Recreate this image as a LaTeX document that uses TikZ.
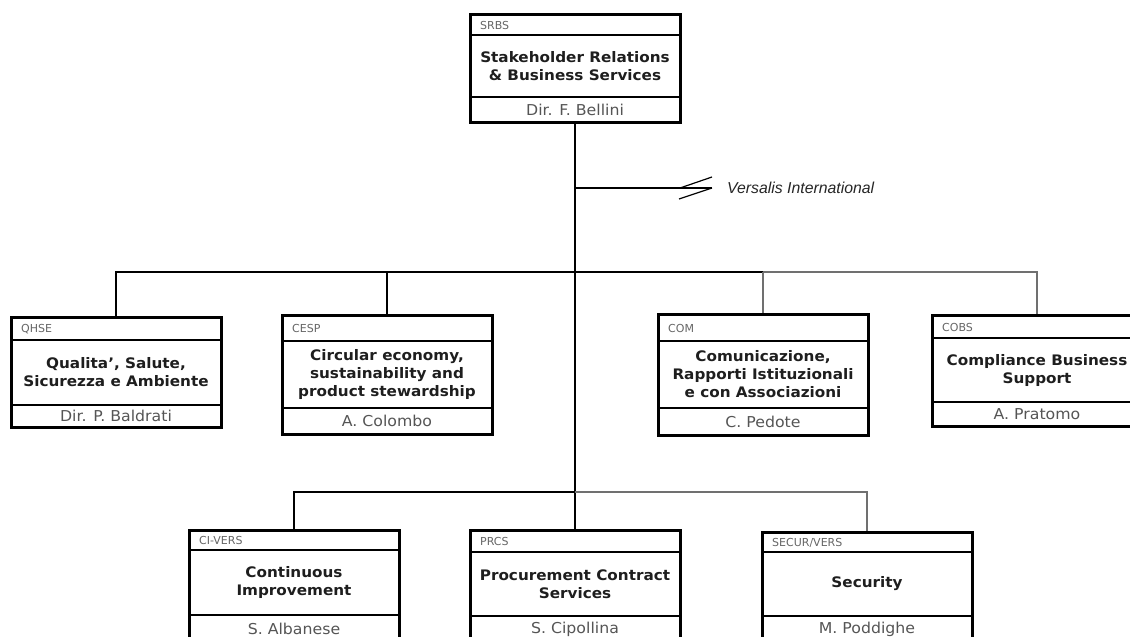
\documentclass[tikz,border=0pt]{standalone}
\usepackage{fontspec}
\setmainfont{DejaVu Sans}
\newfontfamily\versfont{Liberation Sans}
\newfontfamily\widefont[FakeStretch=1.05]{DejaVu Sans}
\usetikzlibrary{fit,shadows}
\definecolor{codegray}{HTML}{666666}
\definecolor{namegray}{HTML}{555555}
\definecolor{titlecol}{HTML}{1E1E1E}
\definecolor{linegray}{HTML}{707070}
\tikzset{
  boxframe/.style={draw=black, line width=3pt, fill=white, inner sep=0pt,
    drop shadow={shadow xshift=1.5pt, shadow yshift=-1.5pt, fill=black, opacity=1}},
  divider/.style={draw=black, line width=1.4pt},
  codetext/.style={font=\fontsize{11}{12}\selectfont, text=codegray, anchor=west, inner sep=0pt},
  titletext/.style={font=\widefont\fontsize{14.5}{18}\selectfont\bfseries, text=titlecol, align=center, inner sep=0pt},
  nametext/.style={font=\widefont\fontsize{15}{17}\selectfont, text=namegray, inner sep=0pt},
  conn/.style={draw=black, line width=1.6pt},
  conngray/.style={draw=linegray, line width=1.6pt},
  verstext/.style={font=\versfont\itshape\fontsize{15.8}{17}\selectfont, text=black!85, anchor=west, inner sep=0pt},
}
% #1 name, #2 cx, #3 top, #4 hline, #5 mline, #6 bottom, #7 code, #8 title, #9 person
\newcommand\obox[9]{%
  \node[boxframe, fit={({#2-105},#3) ({#2+105},#6)}] (#1) {};
  \draw[divider] ({#2-105},#4) -- ({#2+105},#4);
  \draw[divider] ({#2-105},#5) -- ({#2+105},#5);
  \node[codetext] (#1c) at ({#2-95},{(#3+#4)/2+0.5}) {#7};
  \node[titletext] (#1t) at (#2,{(#4+#5)/2}) {#8};
  \node[nametext] (#1n) at (#2,{(#5+#6)/2}) {#9};
}
\begin{document}
\begin{tikzpicture}[x=1pt,y=-1pt]
\useasboundingbox (0,0) rectangle (1130,637);
\clip (0,0) rectangle (1130,637);
\fill[white] (0,0) rectangle (1130,637);

% boxes
\obox{SRBS}{575}{14.5}{35}{97}{122.5}{SRBS}{Stakeholder Relations\\\& Business Services}{Dir. F. Bellini}
\obox{QHSE}{116}{317}{340}{405}{427}{QHSE}{Qualita’, Salute,\\Sicurezza e Ambiente}{Dir. P. Baldrati}
\obox{CESP}{387}{315.5}{341}{408}{434}{CESP}{Circular economy,\\sustainability and\\product stewardship}{A. Colombo}
\obox{COM}{763}{314.5}{341}{408}{435.5}{COM}{Comunicazione,\\Rapporti Istituzionali\\e con Associazioni}{C. Pedote}
\obox{COBS}{1037}{315.5}{338}{402}{426}{COBS}{Compliance Business\\Support}{A. Pratomo}
\obox{CIVERS}{294}{530.5}{550}{615}{642}{CI-VERS}{Continuous\\Improvement}{S. Albanese}
\obox{PRCS}{575}{530.5}{552}{616}{642}{PRCS}{Procurement Contract\\Services}{S. Cipollina}
\obox{SECUR}{867}{532}{552}{616}{642}{SECUR/VERS}{Security}{M. Poddighe}

% junction coordinates
\coordinate (vj) at (575,188);
\coordinate (vend) at (712,188);
\coordinate (zA) at (680,188);
\coordinate (zB) at (712,177);
\coordinate (zC) at (679,199);
\coordinate (b1) at (575,272);
\coordinate (b2) at (575,492);

% trunk
\draw[conn] (SRBS.south) -- (PRCS.north);
% Versalis International branch
\draw[conn] (vj) -- (vend);
\draw[conn, line width=1.2pt] (zA) -- (zB);
\draw[conn, line width=1.2pt] (zC) -- (vend);
\node[verstext] (vers) at (727,188) {Versalis International};

% upper bus
\draw[conn] (QHSE.north) -- (QHSE.north |- b1) -- (COM.north |- b1);
\draw[conn] (CESP.north) -- (CESP.north |- b1);
\draw[conngray] (COM.north |- b1) -- (COBS.north |- b1) -- (COBS.north);
\draw[conngray] (COM.north |- b1) -- (COM.north);

% lower bus
\draw[conn] (CIVERS.north) -- (CIVERS.north |- b2) -- (b2);
\draw[conngray] (b2) -- (SECUR.north |- b2) -- (SECUR.north);
\end{tikzpicture}
\end{document}
